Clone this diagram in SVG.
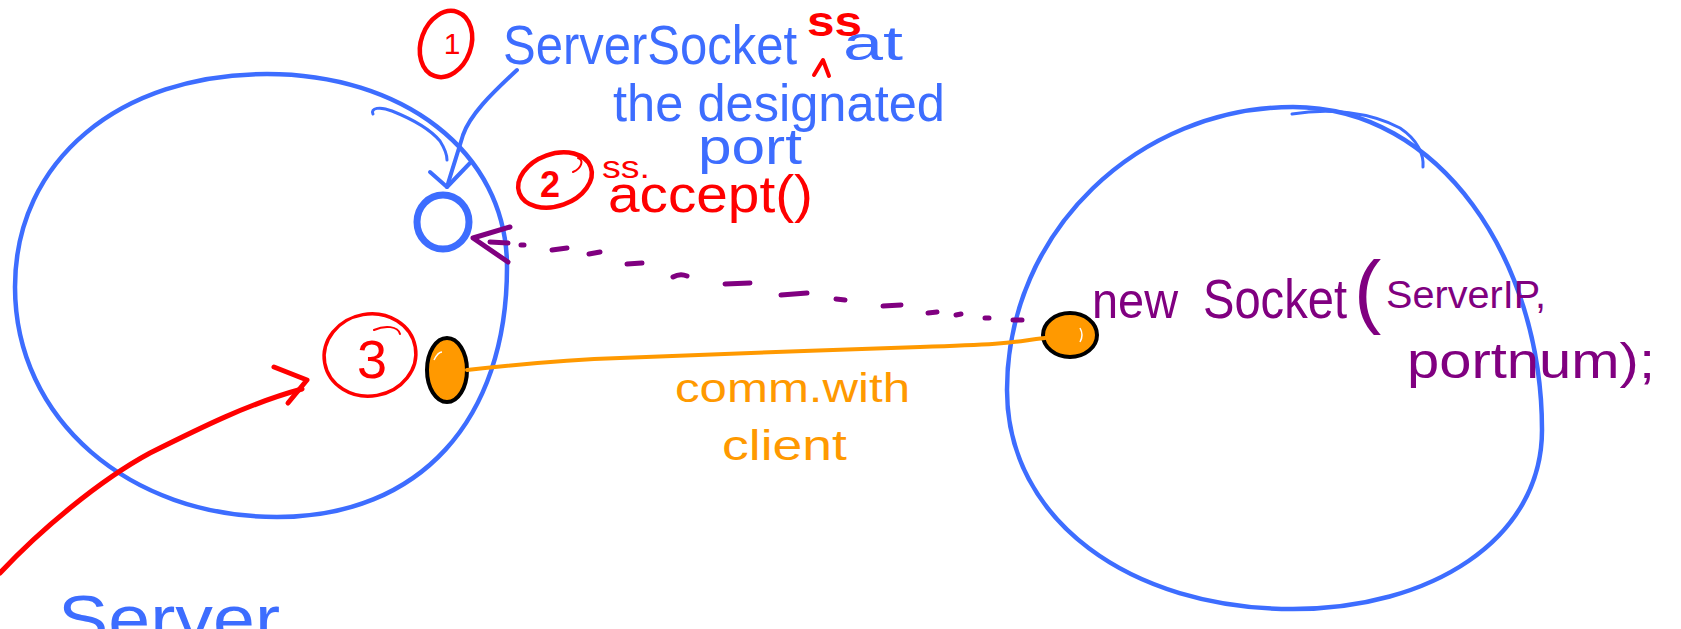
<svg xmlns="http://www.w3.org/2000/svg" width="1681" height="629" viewBox="0 0 1681 629">
<style>
.blue{fill:none;stroke:#3d6dff;stroke-linecap:round;stroke-linejoin:round}
.red{fill:none;stroke:#ff0000;stroke-linecap:round;stroke-linejoin:round}
.pur{fill:none;stroke:#800080;stroke-width:5;stroke-linecap:round;stroke-linejoin:round}
.org{fill:none;stroke:#ff9900;stroke-width:4;stroke-linecap:round}
.dot{fill:#ff9900;stroke:#000;stroke-width:4}
text{font-family:"Liberation Sans","DejaVu Sans",sans-serif}
.tb{fill:#3d6dff}
.tr{fill:#ff0000}
.tp{fill:#800080}
.to{fill:#ff9900}
</style>
<rect width="1681" height="629" fill="#fff"/>

<g id="server-circle">
<path class="blue" stroke-width="4.5" d="M267,74 C400,74 507,150 507,267 C507,420 420,517 277,517 C130,517 15,420 15,287 C15,160 120,74 267,74 Z"/>
<path class="blue" stroke-width="3" d="M373,114 C370,108 380,106 392,111 C412,119 430,129 440,141 C445,149 447,155 447,160"/>
</g>

<g id="client-circle">
<path class="blue" stroke-width="4.5" d="M1293,107 C1440,107 1542,260 1542,430 C1542,540 1430,609 1293,609 C1130,609 1007,520 1007,390 C1007,230 1140,107 1293,107 Z"/>
<path class="blue" stroke-width="3" d="M1292,114 C1330,108 1370,112 1400,128 C1418,140 1424,155 1423,167"/>
</g>

<g id="port-socket">
<ellipse cx="443" cy="222" rx="26" ry="27" fill="none" stroke="#3d6dff" stroke-width="7"/>
</g>

<g id="server-conn">
<ellipse class="dot" cx="447" cy="370" rx="20" ry="32"/>
<path d="M434,360 Q438,352 442,352" stroke="#fff" stroke-width="1.5" fill="none"/>
</g>

<g id="client-socket">
<ellipse class="dot" cx="1070" cy="335" rx="27" ry="22"/>
<path d="M1080,328 Q1084,335 1080,342" stroke="#fff" stroke-width="1.5" fill="none"/>
</g>

<g id="step1">
<ellipse class="red" stroke-width="4.5" cx="446" cy="44" rx="25" ry="34" transform="rotate(20 446 44)"/>
<text class="tr" x="452" y="54" font-size="30" text-anchor="middle">1</text>
</g>

<g id="step2">
<ellipse class="red" stroke-width="4.5" cx="555" cy="180" rx="38" ry="26" transform="rotate(-20 555 180)"/>
<path class="red" stroke-width="2" d="M573,172 C582,168 584,160 578,158"/>
<text class="tr" x="550" y="197" font-size="36" font-weight="bold" text-anchor="middle">2</text>
</g>

<g id="step3">
<ellipse class="red" stroke-width="3.5" cx="370" cy="355" rx="46" ry="41" transform="rotate(-10 370 355)"/>
<path class="red" stroke-width="2" d="M374,330 C385,325 398,326 400,334"/>
<text class="tr" x="372" y="378" font-size="54" text-anchor="middle">3</text>
</g>

<g id="labels">
<text class="tb" x="503" y="64" font-size="56" textLength="294" lengthAdjust="spacingAndGlyphs">ServerSocket</text>
<text class="tr" x="807" y="36" font-size="42" font-weight="bold" textLength="55" lengthAdjust="spacingAndGlyphs">ss</text>
<path class="red" stroke-width="4" d="M814,75 L823,60 L829,76"/>
<text class="tb" x="843" y="60" font-size="48" textLength="60" lengthAdjust="spacingAndGlyphs">at</text>
<text class="tb" x="613" y="121" font-size="52" textLength="332" lengthAdjust="spacingAndGlyphs">the designated</text>
<text class="tb" x="698" y="164" font-size="50" textLength="104" lengthAdjust="spacingAndGlyphs">port</text>
<text class="tr" x="602" y="178" font-size="32" textLength="48" lengthAdjust="spacingAndGlyphs">ss.</text>
<text class="tr" x="608" y="212" font-size="52" textLength="205" lengthAdjust="spacingAndGlyphs">accept()</text>
<text class="to" x="675" y="402" font-size="40" textLength="235" lengthAdjust="spacingAndGlyphs">comm.with</text>
<text class="to" x="722" y="460" font-size="42" textLength="125" lengthAdjust="spacingAndGlyphs">client</text>
<text class="tp" x="1092" y="318" font-size="50" textLength="86" lengthAdjust="spacingAndGlyphs">new</text>
<text class="tp" x="1203" y="318" font-size="56" textLength="144" lengthAdjust="spacingAndGlyphs">Socket</text>
<text class="tp" x="1354" y="318" font-size="82">(</text>
<text class="tp" x="1386" y="308" font-size="38" textLength="160" lengthAdjust="spacingAndGlyphs">ServerIP,</text>
<text class="tp" x="1407" y="378" font-size="50" textLength="248" lengthAdjust="spacingAndGlyphs">portnum);</text>
<text class="tb" x="58" y="642" font-size="66" textLength="222" lengthAdjust="spacingAndGlyphs">Server</text>
</g>

<g id="connectors">
<path class="blue" stroke-width="4" d="M517,70 C490,95 470,115 463,135 C457,155 452,170 447,187"/>
<path class="blue" stroke-width="4" d="M430,172 L447,187 L470,163"/>
<path class="red" stroke-width="5" d="M0,573 C40,530 100,480 150,453 C200,428 250,403 302,389"/>
<path class="red" stroke-width="5" d="M274,367 L307,380 L288,403"/>
<path class="org" d="M467,370 C520,364 560,360 620,358 S820,350 920,347 S1010,342 1045,338"/>
<path class="pur" d="M510,227 L473,238 L508,262 M490,242 L508,243"/>
<path class="pur" d="M521,245 L524,245 M552,250 L567,248 M589,254 L600,252 M627,264 L642,263 M673,277 Q680,273 687,276 M725,284 L750,283 M781,295 L807,293 M836,299 L845,300 M883,306 L901,305 M928,313 L937,312 M956,315 L961,314 M985,318 L989,318 M1013,320 L1022,320"/>
</g>
</svg>
